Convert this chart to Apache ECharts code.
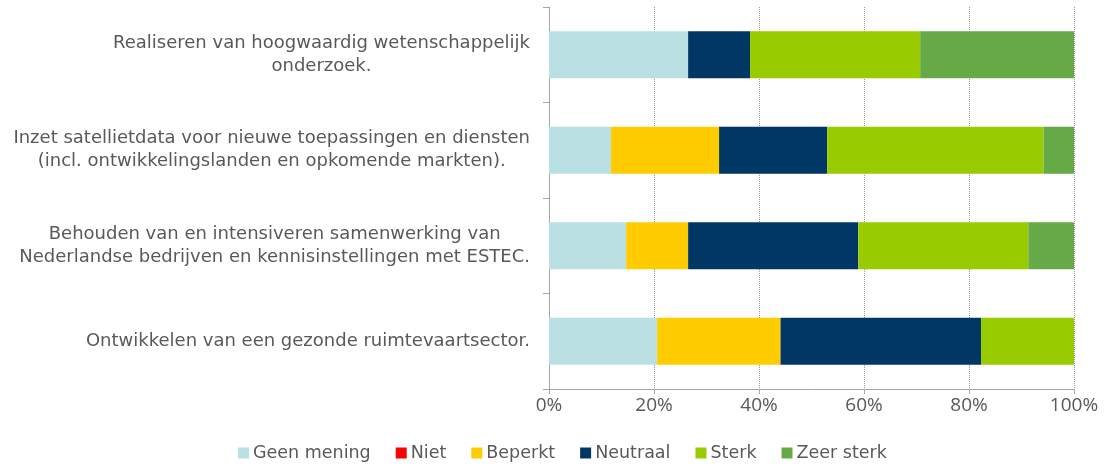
<!DOCTYPE html>
<html>
<head>
<meta charset="utf-8">
<style>
  html, body { margin: 0; padding: 0; background: #fff; }
  #chart { width: 1107px; height: 468px; }
</style>
<script src="https://cdn.jsdelivr.net/npm/echarts@6/dist/echarts.min.js"></script>
</head>
<body>
<div id="chart"></div>
<script>
// categorieen (van boven naar beneden)
var categories = [
    'Realiseren van hoogwaardig wetenschappelijk\nonderzoek.',
    'Inzet satellietdata voor nieuwe toepassingen en diensten\n(incl. ontwikkelingslanden en opkomende markten).',
    'Behouden van en intensiveren samenwerking van\nNederlandse bedrijven en kennisinstellingen met ESTEC.',
    'Ontwikkelen van een gezonde ruimtevaartsector.'
];
// percentages per antwoord
var geenMening = [26.5, 11.8, 14.7, 20.6];
var niet = [0, 0, 0, 0];
var beperkt = [0, 20.6, 11.8, 23.5];
var neutraal = [11.8, 20.6, 32.4, 38.2];
var sterk = [32.4, 41.2, 32.4, 17.7];
var zeerSterk = [29.3, 5.8, 8.7, 0];
var xTicks = [0, 20, 40, 60, 80, 100];

var chart = echarts.init(document.getElementById('chart'));

function serie(name, data, color) {
    return {
        name: name,
        type: 'bar',
        stack: 'totaal',
        barWidth: 47,
        data: data,
        itemStyle: { color: color },
        emphasis: { disabled: true }
    };
}

var option = {
    animation: false,
    textStyle: { fontFamily: 'DejaVu Sans' },
    color: ['#BBE0E3', '#FF0000', '#FFCC00', '#003764', '#99CC00', '#66AA48'],
    legend: {
        bottom: 1,
        left: 233,
        icon: 'rect',
        itemWidth: 11,
        itemHeight: 11,
        itemGap: 25,
        textStyle: { color: '#595959', fontSize: 17.5, fontFamily: 'DejaVu Sans', padding: [0, 0, 0, -1] }
    },
    grid: {
        left: 549,
        right: 33,
        top: 7,
        bottom: 79
    },
    xAxis: {
        type: 'value',
        min: xTicks[0],
        max: xTicks[xTicks.length - 1],
        interval: 20,
        axisLine: { show: true, lineStyle: { color: '#a6a6a6' } },
        axisTick: { show: true, length: 5, lineStyle: { color: '#a6a6a6' } },
        axisLabel: {
            formatter: '{value}%',
            color: '#595959',
            fontSize: 19,
            fontFamily: 'Open Sans',
            margin: 7
        },
        splitLine: {
            show: true,
            lineStyle: { color: '#9a9a9a', type: [1, 1], width: 1 }
        }
    },
    yAxis: {
        type: 'category',
        inverse: true,
        data: categories,
        axisLine: { show: true, lineStyle: { color: '#a6a6a6' } },
        axisTick: { show: true, length: 6, lineStyle: { color: '#a6a6a6' } },
        axisLabel: {
            margin: 19,
            formatter: function (v) {
                return v.split('\n').map(function (r) { return '{c|' + r + '}'; }).join('\n');
            },
            rich: {
                c: {
                    align: 'center',
                    color: '#595959',
                    fontSize: 18,
                    lineHeight: 23,
                    fontFamily: 'DejaVu Sans'
                }
            }
        }
    },
    series: [
        serie('Geen mening', geenMening, '#BBE0E3'),
        serie('Niet', niet, '#FF0000'),
        serie('Beperkt', beperkt, '#FFCC00'),
        serie('Neutraal', neutraal, '#003764'),
        serie('Sterk', sterk, '#99CC00'),
        serie('Zeer sterk', zeerSterk, '#66AA48')
    ]
};

chart.setOption(option);
</script>
</body>
</html>
